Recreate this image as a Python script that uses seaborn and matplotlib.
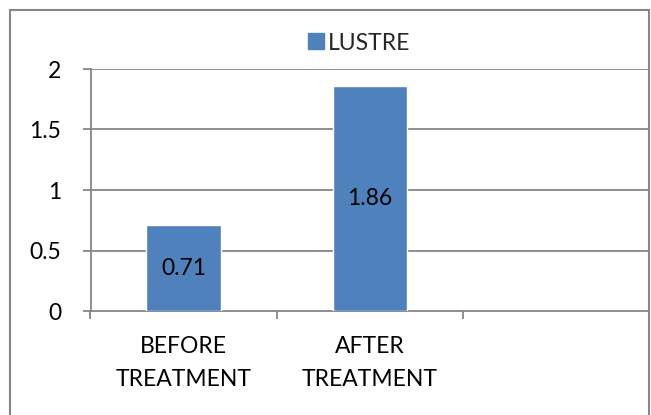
import matplotlib
matplotlib.use("Agg")
import matplotlib.pyplot as plt
import seaborn as sns
import pandas as pd
from matplotlib.patches import Rectangle

categories = ["BEFORE\nTREATMENT", "AFTER\nTREATMENT"]
axis_slots = ["BEFORE\nTREATMENT", "AFTER\nTREATMENT", " "]
lustre = [0.71, 1.86]
series_name = "LUSTRE"

sns.set_theme(style="white")
plt.rcParams["font.family"] = ["Lato", "DejaVu Sans"]

df = pd.DataFrame({"group": categories, "value": lustre})

fig = plt.figure(figsize=(6.51, 4.15), dpi=100)
ax = fig.add_axes([90.5 / 651, 1 - 311 / 415, (649 - 90.5) / 651, (311 - 69) / 415])

bar_color = "#4F81BD"
grid_color = "#868686"
fs = 16.5

sns.barplot(data=df, x="group", y="value", order=axis_slots, color=bar_color,
            width=0.4, saturation=1, ax=ax, errorbar=None, zorder=3)

ax.set_xlim(-0.5, 2.5)
ax.set_ylim(0, 2)
ax.set_yticks([0, 0.5, 1, 1.5, 2])
ax.set_yticklabels(["0", "0.5", "1", "1.5", "2"])
ax.set_xlabel("")
ax.set_ylabel("")

# horizontal gridlines
for y in [0.5, 1, 1.5, 2]:
    ax.axhline(y, color=grid_color, lw=1.3, zorder=1)

for side in ["top", "right"]:
    ax.spines[side].set_visible(False)
for side in ["left", "bottom"]:
    ax.spines[side].set_color(grid_color)
    ax.spines[side].set_linewidth(1.3)

# category labels centred, tick marks on boundaries
ax.set_xticks([0, 1, 2])
ax.set_xticklabels(axis_slots, fontsize=fs, color="black", linespacing=1.7)
ax.tick_params(axis="x", length=0, pad=18)
ax.set_xticks([-0.5, 0.5, 1.5, 2.5], minor=True)
ax.tick_params(axis="x", which="minor", length=6, width=1.3, color=grid_color,
               direction="out", bottom=True)
ax.tick_params(axis="y", length=6, width=1.3, color=grid_color, direction="out",
               left=True, labelsize=fs, labelcolor="black", pad=15)

# value labels inside bars
for i, v in enumerate(lustre):
    ax.text(i, v / 2, f"{v:.2f}", ha="center", va="center", fontsize=fs,
            color="black", zorder=4)

# legend above the plot
handle = Rectangle((0, 0), 1, 1, color=bar_color)
fig.legend([handle], [series_name], loc="center", bbox_to_anchor=(359 / 651, 1 - 43 / 415),
           frameon=False, fontsize=fs, handlelength=0.7, handleheight=0.7,
           handletextpad=0.2, borderpad=0)

# chart border
fig.patches.append(Rectangle((10 / 651, -0.05), 638.5 / 651, 1.05 - 10 / 415,
                             transform=fig.transFigure, fill=False,
                             edgecolor=grid_color, lw=1.5))

fig.savefig("out.png", dpi=100)
